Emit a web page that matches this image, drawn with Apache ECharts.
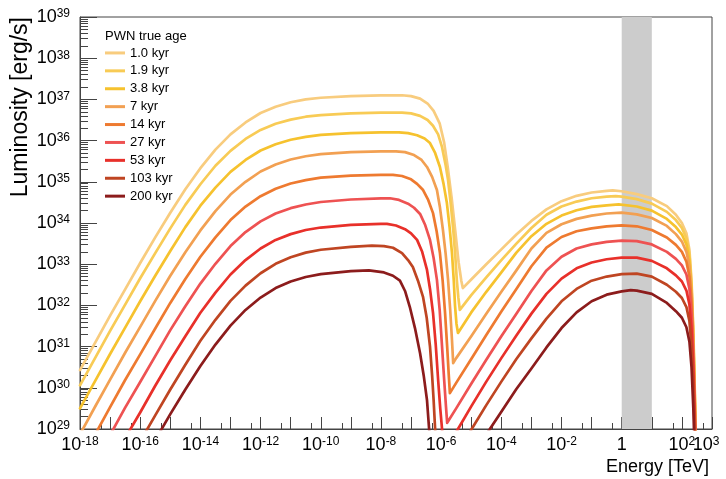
<!DOCTYPE html>
<html><head><meta charset="utf-8">
<script src="https://cdn.jsdelivr.net/npm/echarts@6/dist/echarts.min.js"></script>
<style>html,body{margin:0;padding:0;background:#fff}#c{width:726px;height:479px}</style>
</head><body><div id="c"></div>
<script>
// Values are log10(Energy / TeV) and log10(Luminosity / erg s^-1).
const ages = ['1.0 kyr','1.9 kyr','3.8 kyr','7 kyr','14 kyr','27 kyr','53 kyr','103 kyr','200 kyr'];
const colors = ['#F8CC7E','#F8CB55','#F6C22E','#F2A052','#EE7A30','#EE5252','#E8302A','#BF4522','#8C1C1C'];

const age1_0 = [[-18,30.43],[-17.5,31.09],[-17,31.75],[-16.5,32.39],[-16,33.03],[-15.5,33.65],[-15,34.25],[-14.5,34.82],[-14,35.33],[-13.5,35.78],[-13,36.15],[-12.5,36.44],[-12,36.67],[-11.5,36.82],[-11,36.93],[-10.5,37.0],[-10,37.04],[-9,37.08],[-8,37.1],[-7.3,37.1],[-7.0,37.08],[-6.7,37.02],[-6.45,36.9],[-6.25,36.72],[-6.05,36.42],[-5.9,35.95],[-5.78,35.35],[-5.65,34.6],[-5.53,33.8],[-5.42,33.05],[-5.33,32.6],[-5.28,32.42],
  [-5.0,32.63],[-4.5,33.0],[-4,33.36],[-3.5,33.72],[-3,34.05],[-2.5,34.33],[-2,34.53],[-1.5,34.66],[-1,34.74],[-0.5,34.78],[-0.3,34.79],[0,34.77],[0.5,34.7],[1,34.6],[1.5,34.41],[1.8,34.2],[2,34.0],[2.15,33.75],[2.25,33.35],[2.32,32.6],[2.38,31.4],[2.43,29.9],[2.47,28.5]];
const age1_9 = [[-18,30.06],[-17.5,30.72],[-17,31.38],[-16.5,32.02],[-16,32.66],[-15.5,33.27],[-15,33.87],[-14.5,34.44],[-14,34.94],[-13.5,35.39],[-13,35.75],[-12.5,36.04],[-12,36.26],[-11.5,36.41],[-11,36.51],[-10.5,36.58],[-10,36.62],[-9,36.66],[-8,36.68],[-7.3,36.68],[-7.0,36.66],[-6.7,36.6],[-6.45,36.5],[-6.27,36.36],[-6.1,36.15],[-5.97,35.84],[-5.85,35.4],[-5.77,35.04],[-5.68,34.45],[-5.6,33.85],[-5.53,33.2],[-5.48,32.62],[-5.43,32.2],[-5.38,31.89],
  [-5,32.25],[-4.5,32.68],[-4,33.1],[-3.5,33.5],[-3,33.88],[-2.5,34.2],[-2,34.4],[-1.5,34.52],[-1,34.6],[-0.5,34.64],[-0.2,34.65],[0,34.64],[0.5,34.58],[1,34.47],[1.5,34.27],[1.8,34.07],[2,33.88],[2.15,33.63],[2.25,33.25],[2.32,32.5],[2.38,31.3],[2.43,29.8],[2.47,28.5]];
const age3_8 = [[-18,29.5],[-17.5,30.16],[-17,30.82],[-16.5,31.46],[-16,32.1],[-15.5,32.72],[-15,33.32],[-14.5,33.9],[-14,34.42],[-13.5,34.86],[-13,35.24],[-12.5,35.53],[-12,35.76],[-11.5,35.91],[-11,36.02],[-10.5,36.09],[-10,36.14],[-9,36.18],[-8,36.2],[-7.4,36.2],[-7.1,36.18],[-6.8,36.13],[-6.55,36.05],[-6.37,35.94],[-6.2,35.7],[-6.04,35.36],[-5.92,34.95],[-5.81,34.49],[-5.72,33.9],[-5.64,33.27],[-5.58,32.6],[-5.54,32.0],[-5.49,31.55],[-5.44,31.33],
  [-5,31.83],[-4.5,32.33],[-4,32.8],[-3.5,33.28],[-3,33.68],[-2.5,33.98],[-2,34.18],[-1.5,34.31],[-1,34.39],[-0.5,34.43],[-0.1,34.45],[0.5,34.4],[1,34.3],[1.5,34.1],[1.8,33.9],[2,33.72],[2.15,33.48],[2.25,33.1],[2.32,32.4],[2.38,31.2],[2.43,29.7],[2.47,28.4]];
const age7 = [[-18,28.87],[-17.5,29.54],[-17,30.2],[-16.5,30.85],[-16,31.48],[-15.5,32.11],[-15,32.72],[-14.5,33.29],[-14,33.82],[-13.5,34.29],[-13,34.69],[-12.5,35.0],[-12,35.25],[-11.5,35.42],[-11,35.54],[-10.5,35.62],[-10,35.67],[-9,35.72],[-8,35.74],[-7.5,35.74],[-7.2,35.72],[-6.9,35.65],[-6.65,35.53],[-6.47,35.36],[-6.3,35.12],[-6.14,34.8],[-6.04,34.38],[-5.94,33.83],[-5.85,33.25],[-5.77,32.62],[-5.7,31.9],[-5.64,31.16],[-5.6,30.6],
  [-5.5,30.72],[-5,31.25],[-4.5,31.8],[-4,32.33],[-3.5,32.85],[-3,33.38],[-2.5,33.76],[-2,33.97],[-1.5,34.1],[-1,34.18],[-0.5,34.23],[0,34.25],[0.5,34.21],[1,34.12],[1.5,33.93],[1.8,33.73],[2,33.55],[2.15,33.3],[2.25,32.95],[2.32,32.3],[2.38,31.1],[2.43,29.6],[2.47,28.3]];
const age14 = [[-17.6,28.73],[-17,29.53],[-16.5,30.19],[-16,30.81],[-15.5,31.44],[-15,32.06],[-14.5,32.64],[-14,33.18],[-13.5,33.65],[-13,34.07],[-12.5,34.4],[-12,34.65],[-11.5,34.83],[-11,34.96],[-10.5,35.04],[-10,35.1],[-9,35.15],[-8,35.17],[-7.6,35.17],[-7.3,35.14],[-7.0,35.06],[-6.8,34.95],[-6.6,34.8],[-6.43,34.56],[-6.27,34.24],[-6.15,33.8],[-6.04,33.27],[-5.95,32.6],[-5.87,31.82],[-5.8,31.0],[-5.75,30.35],[-5.71,29.87],
  [-5.5,30.12],[-5,30.7],[-4.5,31.28],[-4,31.85],[-3.5,32.4],[-3,32.95],[-2.5,33.4],[-2,33.66],[-1.5,33.8],[-1,33.87],[-0.5,33.92],[0,33.94],[0.5,33.92],[1,33.83],[1.5,33.65],[1.8,33.47],[2,33.3],[2.15,33.06],[2.25,32.7],[2.32,32.1],[2.38,30.9],[2.43,29.5],[2.47,28.2]];
const age27 = [[-17.1,28.72],[-16.5,29.52],[-16,30.14],[-15.5,30.77],[-15,31.4],[-14.5,31.98],[-14,32.53],[-13.5,33.01],[-13,33.44],[-12.5,33.78],[-12,34.04],[-11.5,34.23],[-11,34.36],[-10.5,34.45],[-10,34.51],[-9,34.57],[-8,34.6],[-7.7,34.6],[-7.4,34.56],[-7.1,34.47],[-6.9,34.37],[-6.7,34.22],[-6.53,33.95],[-6.37,33.59],[-6.25,33.15],[-6.14,32.62],[-6.05,31.9],[-5.97,31.0],[-5.9,30.2],[-5.84,29.55],[-5.8,29.15],
  [-5.5,29.5],[-5,30.1],[-4.5,30.68],[-4,31.25],[-3.5,31.8],[-3,32.35],[-2.5,32.85],[-2,33.18],[-1.5,33.38],[-1,33.48],[-0.5,33.54],[0,33.57],[0.5,33.56],[1,33.48],[1.5,33.3],[1.8,33.13],[2,32.97],[2.15,32.75],[2.25,32.4],[2.32,31.8],[2.38,30.7],[2.43,29.3],[2.47,28.1]];
const age53 = [[-16.5,28.78],[-16,29.4],[-15.5,30.05],[-15,30.67],[-14.5,31.25],[-14,31.82],[-13.5,32.31],[-13,32.75],[-12.5,33.1],[-12,33.38],[-11.5,33.59],[-11,33.73],[-10.5,33.83],[-10,33.89],[-9,33.955],[-8,33.98],[-7.8,33.98],[-7.5,33.94],[-7.2,33.85],[-7.0,33.75],[-6.8,33.59],[-6.63,33.3],[-6.47,32.86],[-6.37,32.4],[-6.27,31.82],[-6.18,31.05],[-6.1,30.19],[-6.03,29.5],[-5.97,29.0],[-5.9,28.3],[-5.75,27.9],
  [-5.6,28.8],[-5.44,29.0],[-5,29.55],[-4.5,30.15],[-4,30.72],[-3.5,31.27],[-3,31.8],[-2.5,32.28],[-2,32.65],[-1.5,32.9],[-1,33.04],[-0.5,33.12],[0,33.16],[0.5,33.16],[1,33.08],[1.5,32.9],[1.8,32.73],[2,32.58],[2.15,32.36],[2.25,32.02],[2.32,31.4],[2.38,30.4],[2.43,29.1],[2.47,28.0]];
const age103 = [[-16,28.7],[-15.5,29.33],[-15,29.96],[-14.5,30.56],[-14,31.14],[-13.5,31.65],[-13,32.11],[-12.5,32.48],[-12,32.78],[-11.5,33.01],[-11,33.17],[-10.5,33.28],[-10,33.35],[-9,33.42],[-8.3,33.45],[-7.9,33.44],[-7.6,33.4],[-7.3,33.27],[-7.1,33.1],[-6.94,32.93],[-6.77,32.6],[-6.6,32.2],[-6.48,31.7],[-6.37,31.0],[-6.3,30.3],[-6.25,29.7],[-6.2,29.0],[-6.15,28.3],[-5.9,27.4],
  [-5.3,28.6],[-5,28.98],[-4.5,29.58],[-4,30.15],[-3.5,30.7],[-3,31.2],[-2.5,31.68],[-2,32.1],[-1.5,32.4],[-1,32.6],[-0.5,32.7],[0,32.76],[0.5,32.77],[1,32.7],[1.5,32.5],[1.8,32.33],[2,32.18],[2.15,31.96],[2.25,31.62],[2.32,31.0],[2.38,30.0],[2.43,28.8]];
const age200 = [[-15.5,28.73],[-15,29.36],[-14.5,29.96],[-14,30.53],[-13.5,31.05],[-13,31.51],[-12.5,31.89],[-12,32.19],[-11.5,32.42],[-11,32.58],[-10.5,32.69],[-10,32.76],[-9,32.83],[-8.4,32.85],[-7.9,32.8],[-7.6,32.72],[-7.37,32.6],[-7.2,32.35],[-7.04,31.96],[-6.87,31.45],[-6.7,30.84],[-6.58,30.3],[-6.47,29.7],[-6.4,29.0],[-6.33,28.3],[-6.0,27.0],
  [-4.6,28.75],[-4.38,29.0],[-4,29.42],[-3.5,29.97],[-3,30.47],[-2.5,30.98],[-2,31.45],[-1.5,31.83],[-1,32.1],[-0.5,32.26],[0,32.34],[0.3,32.37],[0.5,32.36],[1,32.28],[1.5,32.06],[1.8,31.86],[2,31.7],[2.15,31.47],[2.25,31.12],[2.32,30.5],[2.38,29.5],[2.43,28.3]];

const curves = [age1_0, age1_9, age3_8, age7, age14, age27, age53, age103, age200];

// axis decades (log10) and labelled decades
const xRange = [-18, 3];
const yRange = [29, 39];
const xLabelExps = [-18,-16,-14,-12,-10,-8,-6,-4,-2,0,2];
const xEndLabelExps = [3];
const yLabelExps = [29,30,31,32,33,34,35,36,37,38,39];
const bandTeV = [0, 1]; // shaded 1–10 TeV

const FONT = '"Liberation Sans", Arial, Helvetica, sans-serif';
const AX = '#444';

const xMajor = [], xMinor = [], yMajor = [], yMinor = [];
for (let n = xRange[0]; n <= xRange[1]; n++) { xMajor.push(n); if (n < xRange[1]) xMinor.push(n + Math.log10(5)); }
for (let n = yRange[0]; n <= yRange[1]; n++) { yMajor.push(n); if (n < yRange[1]) for (let k = 2; k <= 9; k++) yMinor.push(n + Math.log10(k)); }

const rich = {
  b: { fontSize: 18, lineHeight: 18, verticalAlign: 'bottom', fontFamily: FONT, color: '#000' },
  s: { fontSize: 12, lineHeight: 12, padding: [0, 0, 10, 0], verticalAlign: 'top', fontFamily: FONT, color: '#000' },
  s3: { fontSize: 12, lineHeight: 12, padding: [0, 12, 10, 0], verticalAlign: 'top', fontFamily: FONT, color: '#000' }
};
function powLabel(v) {
  const n = Math.round(v);
  if (n === 0) return '{b|1}';
  return '{b|10}{s|' + n + '}';
}
function powLabelEnd(v) { return '{b|10}{s3|' + Math.round(v) + '}'; }
function powLabelY(v) { return '{b|10}{s|' + Math.round(v) + '}'; }

const chart = echarts.init(document.getElementById('c'), null, { renderer: 'canvas' });

const series = curves.map((d, i) => ({
  type: 'line', name: ages[i], data: d, showSymbol: false, symbol: 'none', silent: true,
  clip: true, z: 3, color: colors[i],
  lineStyle: { color: colors[i], width: 2.7, join: 'round', cap: 'round' },
  itemStyle: { color: colors[i] }
}));
series.unshift({
  type: 'line', name: 'band', data: [], silent: true, z: 1,
  markArea: { silent: true, itemStyle: { color: '#cccccc', opacity: 1 },
    data: [[{ xAxis: bandTeV[0] }, { xAxis: bandTeV[1] }]] }
});

chart.setOption({
  animation: false,
  backgroundColor: '#fff',
  textStyle: { fontFamily: FONT },
  grid: { left: 80, right: 14, top: 17, bottom: 50, show: true, borderColor: AX, borderWidth: 1,
          backgroundColor: 'transparent', containLabel: false, outerBoundsMode: 'none' },
  legend: {
    data: ages, orient: 'vertical', left: 105, top: 44, icon: 'rect', itemWidth: 20, itemHeight: 3,
    itemGap: 0, selectedMode: false, padding: 0,
    textStyle: { fontSize: 13, lineHeight: 17.9, color: '#000', fontFamily: FONT }
  },
  xAxis: [
    { type: 'value', min: xRange[0], max: xRange[1], position: 'bottom',
      axisLine: { show: true, onZero: false, lineStyle: { color: AX, width: 1 } },
      axisTick: { show: true, inside: true, length: 12, customValues: xMajor, lineStyle: { color: AX } },
      axisLabel: { show: true, customValues: xLabelExps, formatter: powLabel, rich: rich, margin: 7,
                   hideOverlap: false, showMaxLabel: true, showMinLabel: true },
      splitLine: { show: false } },
    { type: 'value', min: xRange[0], max: xRange[1], position: 'bottom',
      axisLine: { show: false, onZero: false }, splitLine: { show: false },
      axisLabel: { show: true, customValues: xEndLabelExps, formatter: powLabelEnd, rich: rich, margin: 7,
                   hideOverlap: false, showMaxLabel: true, showMinLabel: true },
      axisTick: { show: true, inside: true, length: 6, customValues: xMinor, lineStyle: { color: AX } } }
  ],
  yAxis: [
    { type: 'value', min: yRange[0], max: yRange[1], position: 'left',
      axisLine: { show: true, onZero: false, lineStyle: { color: AX, width: 1 } },
      axisTick: { show: true, inside: true, length: 17, customValues: yMajor, lineStyle: { color: AX } },
      axisLabel: { show: true, customValues: yLabelExps, formatter: powLabelY, rich: rich, margin: 10,
                   hideOverlap: false, showMaxLabel: true, showMinLabel: true },
      splitLine: { show: false } },
    { type: 'value', min: yRange[0], max: yRange[1], position: 'left',
      axisLine: { show: false, onZero: false }, axisLabel: { show: false }, splitLine: { show: false },
      axisTick: { show: true, inside: true, length: 8, customValues: yMinor, lineStyle: { color: AX } } }
  ],
  graphic: [
    { type: 'text', x: 21, y: 17, rotation: Math.PI / 2, silent: true,
      style: { text: 'Luminosity [erg/s]', font: '23px ' + FONT, fill: '#000', align: 'right', verticalAlign: 'middle' } },
    { type: 'text', x: 709, y: 467, silent: true,
      style: { text: 'Energy [TeV]', font: '18px ' + FONT, fill: '#000', align: 'right', verticalAlign: 'middle' } },
    { type: 'text', x: 105, y: 36, silent: true,
      style: { text: 'PWN true age', font: '13px ' + FONT, fill: '#000', align: 'left', verticalAlign: 'middle' } }
  ],
  series: series
});
</script></body></html>
